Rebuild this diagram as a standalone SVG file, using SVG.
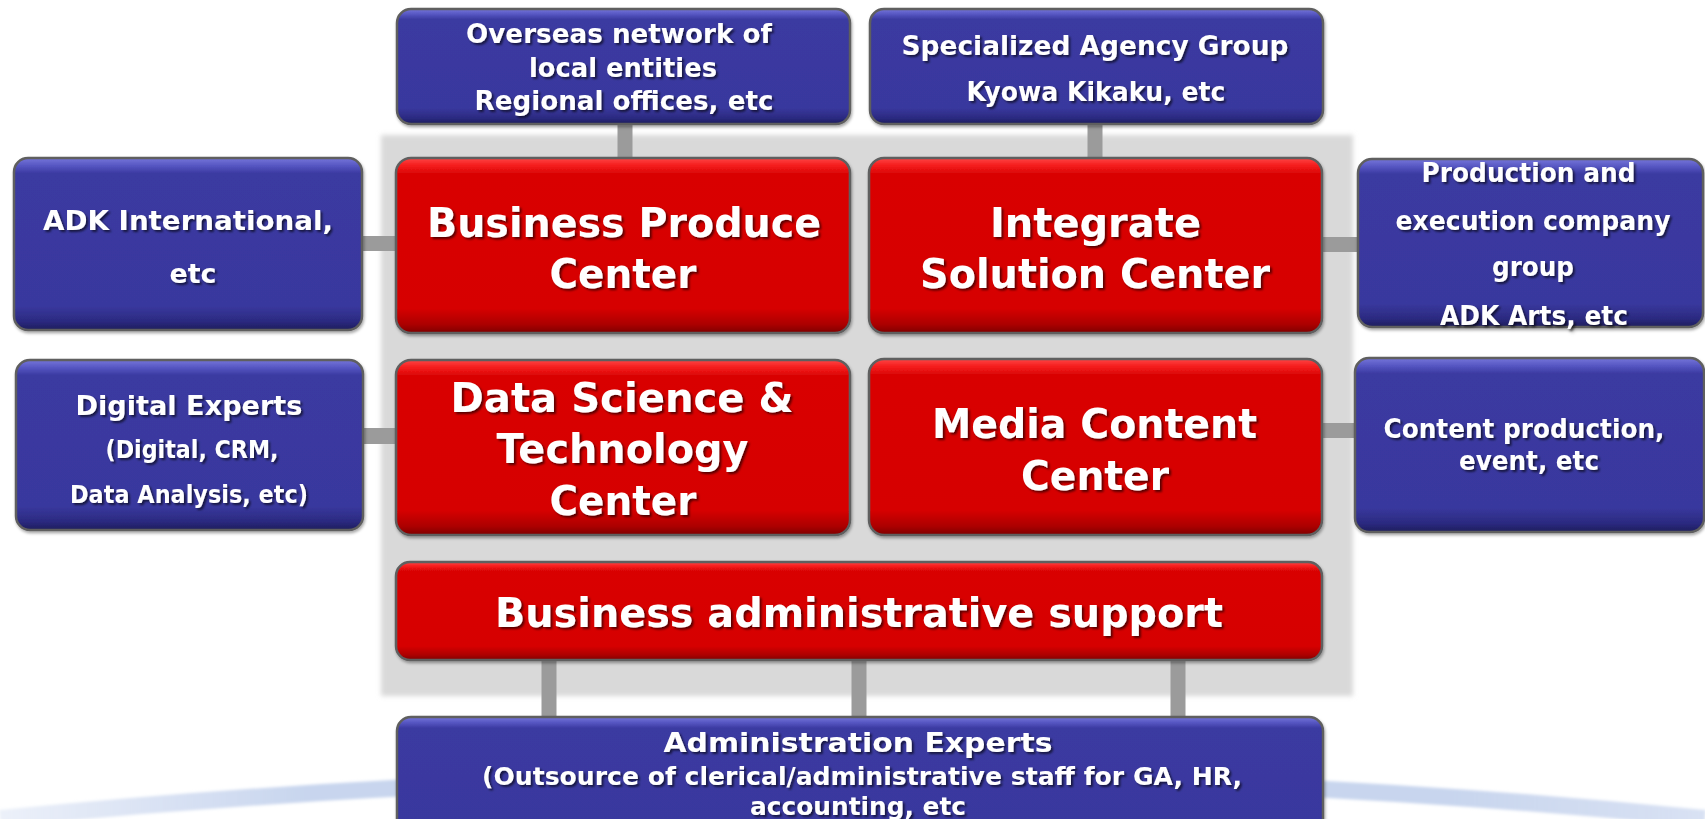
<svg xmlns="http://www.w3.org/2000/svg" width="1705" height="819" viewBox="0 0 1705 819">
  <style>
    .t { font-family: "DejaVu Sans", Verdana, sans-serif; font-weight: bold; fill: #ffffff; text-anchor: middle; }
    .big { font-size: 41px; }
    .mid { font-size: 27px; }
    .sm { font-size: 24px; }
    .red { fill: url(#redFill); stroke: #5e5e5e; stroke-width: 2.5; }
    .blue { fill: url(#blueFill); stroke: #5e5e5e; stroke-width: 2.5; }
    .link { fill: #9b9b9b; }
  </style>
  <defs>
    <linearGradient id="redFill" x1="0" y1="0" x2="0" y2="1">
      <stop offset="0" stop-color="#ff4444"/>
      <stop offset="0.045" stop-color="#f41c1c"/>
      <stop offset="0.09" stop-color="#d90505"/>
      <stop offset="0.86" stop-color="#d60404"/>
      <stop offset="0.95" stop-color="#ac0000"/>
      <stop offset="1" stop-color="#7e0000"/>
    </linearGradient>
    <linearGradient id="blueFill" x1="0" y1="0" x2="0" y2="1">
      <stop offset="0" stop-color="#7676da"/>
      <stop offset="0.045" stop-color="#5656c2"/>
      <stop offset="0.09" stop-color="#3b3aa1"/>
      <stop offset="0.86" stop-color="#39389e"/>
      <stop offset="0.95" stop-color="#2b2a80"/>
      <stop offset="1" stop-color="#1d1c5c"/>
    </linearGradient>
    <linearGradient id="swoosh" gradientUnits="userSpaceOnUse" x1="0" y1="0" x2="1705" y2="0">
      <stop offset="0" stop-color="#c8d5ee" stop-opacity="0.35"/>
      <stop offset="0.18" stop-color="#c8d5ee" stop-opacity="1"/>
      <stop offset="0.85" stop-color="#c8d5ee" stop-opacity="1"/>
      <stop offset="1" stop-color="#c8d5ee" stop-opacity="0.7"/>
    </linearGradient>
    <filter id="soft" x="-5%" y="-5%" width="110%" height="110%">
      <feGaussianBlur stdDeviation="2.5"/>
    </filter>
    <filter id="haze" x="-2%" y="-50%" width="104%" height="200%">
      <feGaussianBlur stdDeviation="1.5"/>
    </filter>
    <filter id="boxShadow" x="-5%" y="-5%" width="112%" height="115%">
      <feDropShadow dx="1" dy="2" stdDeviation="1.5" flood-color="#000000" flood-opacity="0.35"/>
    </filter>
    <filter id="textShadow" x="-5%" y="-20%" width="110%" height="150%">
      <feDropShadow dx="2" dy="2" stdDeviation="1.2" flood-color="#000000" flood-opacity="0.6"/>
    </filter>
  </defs>

  <rect width="1705" height="819" fill="#ffffff"/>

  <!-- light blue arc along the bottom -->
  <path d="M0,818.5 Q852,734 1705,818.5" fill="none" stroke="url(#swoosh)" stroke-width="17" filter="url(#haze)"/>

  <!-- grey panel behind the centres -->
  <rect x="381" y="135" width="972" height="561" fill="#d9d9d9" filter="url(#soft)"/>

  <!-- connectors -->
  <g id="connectors" class="link">
    <rect x="617.5" y="120" width="15" height="42"/>
    <rect x="1087.5" y="120" width="15" height="42"/>
    <rect x="358" y="236" width="42" height="15"/>
    <rect x="1319" y="237" width="43" height="15"/>
    <rect x="359" y="428" width="41" height="16"/>
    <rect x="1318" y="423" width="41" height="15"/>
    <rect x="541.5" y="656" width="15" height="65"/>
    <rect x="851.5" y="656" width="15" height="65"/>
    <rect x="1170.5" y="656" width="15" height="65"/>
  </g>

  <g id="overseas" filter="url(#boxShadow)">
    <rect class="blue" x="397" y="9" width="453" height="115" rx="14"/>
    <g filter="url(#textShadow)">
      <text class="t mid" x="619" y="43" textLength="306" lengthAdjust="spacingAndGlyphs">Overseas network of</text>
      <text class="t mid" x="623" y="77" textLength="188" lengthAdjust="spacingAndGlyphs">local entities</text>
      <text class="t mid" x="624" y="110" textLength="299" lengthAdjust="spacingAndGlyphs">Regional offices, etc</text>
    </g>
  </g>

  <g id="specialized" filter="url(#boxShadow)">
    <rect class="blue" x="870" y="9" width="453" height="115" rx="14"/>
    <g filter="url(#textShadow)">
      <text class="t mid" x="1095" y="55" textLength="387" lengthAdjust="spacingAndGlyphs">Specialized Agency Group</text>
      <text class="t mid" x="1096" y="101" textLength="259" lengthAdjust="spacingAndGlyphs">Kyowa Kikaku, etc</text>
    </g>
  </g>

  <g id="adk-international" filter="url(#boxShadow)">
    <rect class="blue" x="14" y="158" width="348" height="172" rx="14"/>
    <g filter="url(#textShadow)">
      <text class="t mid" x="188" y="230" textLength="290" lengthAdjust="spacingAndGlyphs">ADK International,</text>
      <text class="t mid" x="193" y="283" textLength="47" lengthAdjust="spacingAndGlyphs">etc</text>
    </g>
  </g>

  <g id="business-produce" filter="url(#boxShadow)">
    <rect class="red" x="396" y="158" width="454" height="175" rx="15"/>
    <g filter="url(#textShadow)">
      <text class="t big" x="624" y="237" textLength="394" lengthAdjust="spacingAndGlyphs">Business Produce</text>
      <text class="t big" x="623" y="288" textLength="147" lengthAdjust="spacingAndGlyphs">Center</text>
    </g>
  </g>

  <g id="integrate-solution" filter="url(#boxShadow)">
    <rect class="red" x="869" y="158" width="453" height="175" rx="15"/>
    <g filter="url(#textShadow)">
      <text class="t big" x="1095.5" y="237" textLength="211" lengthAdjust="spacingAndGlyphs">Integrate</text>
      <text class="t big" x="1095" y="288" textLength="350" lengthAdjust="spacingAndGlyphs">Solution Center</text>
    </g>
  </g>

  <g id="production-execution" filter="url(#boxShadow)">
    <rect class="blue" x="1358" y="159" width="345" height="168" rx="14"/>
    <g filter="url(#textShadow)">
      <text class="t mid" x="1528.5" y="182" textLength="214" lengthAdjust="spacingAndGlyphs">Production and</text>
      <text class="t mid" x="1533" y="230" textLength="275" lengthAdjust="spacingAndGlyphs">execution company</text>
      <text class="t mid" x="1533" y="276" textLength="82" lengthAdjust="spacingAndGlyphs">group</text>
      <text class="t mid" x="1534" y="325" textLength="188" lengthAdjust="spacingAndGlyphs">ADK Arts, etc</text>
    </g>
  </g>

  <g id="digital-experts" filter="url(#boxShadow)">
    <rect class="blue" x="16" y="360" width="347" height="170" rx="14"/>
    <g filter="url(#textShadow)">
      <text class="t mid" x="189" y="415" textLength="227" lengthAdjust="spacingAndGlyphs">Digital Experts</text>
      <text class="t sm" x="192" y="458" textLength="173" lengthAdjust="spacingAndGlyphs">(Digital, CRM,</text>
      <text class="t sm" x="189" y="503" textLength="238" lengthAdjust="spacingAndGlyphs">Data Analysis, etc)</text>
    </g>
  </g>

  <g id="data-science" filter="url(#boxShadow)">
    <rect class="red" x="396" y="360" width="454" height="175" rx="15"/>
    <g filter="url(#textShadow)">
      <text class="t big" x="622" y="412" textLength="343" lengthAdjust="spacingAndGlyphs">Data Science &amp;</text>
      <text class="t big" x="622.5" y="463" textLength="252" lengthAdjust="spacingAndGlyphs">Technology</text>
      <text class="t big" x="623" y="515" textLength="147" lengthAdjust="spacingAndGlyphs">Center</text>
    </g>
  </g>

  <g id="media-content" filter="url(#boxShadow)">
    <rect class="red" x="869" y="359" width="453" height="176" rx="15"/>
    <g filter="url(#textShadow)">
      <text class="t big" x="1094.5" y="438" textLength="325" lengthAdjust="spacingAndGlyphs">Media Content</text>
      <text class="t big" x="1095" y="490" textLength="148" lengthAdjust="spacingAndGlyphs">Center</text>
    </g>
  </g>

  <g id="content-production" filter="url(#boxShadow)">
    <rect class="blue" x="1355" y="358" width="349" height="174" rx="14"/>
    <g filter="url(#textShadow)">
      <text class="t mid" x="1524" y="438" textLength="281" lengthAdjust="spacingAndGlyphs">Content production,</text>
      <text class="t mid" x="1529" y="470" textLength="140" lengthAdjust="spacingAndGlyphs">event, etc</text>
    </g>
  </g>

  <g id="business-admin-support" filter="url(#boxShadow)">
    <rect class="red" x="396" y="562" width="926" height="98" rx="14"/>
    <g filter="url(#textShadow)">
      <text class="t big" x="859" y="627" textLength="728" lengthAdjust="spacingAndGlyphs">Business administrative support</text>
    </g>
  </g>

  <g id="administration-experts" filter="url(#boxShadow)">
    <rect class="blue" x="397" y="717" width="926" height="125" rx="14"/>
    <g filter="url(#textShadow)">
      <text class="t mid" x="858" y="752" textLength="389" lengthAdjust="spacingAndGlyphs">Administration Experts</text>
      <text class="t sm" x="862" y="785" textLength="760" lengthAdjust="spacingAndGlyphs">(Outsource of clerical/administrative staff for GA, HR,</text>
      <text class="t sm" x="858" y="815" textLength="216" lengthAdjust="spacingAndGlyphs">accounting, etc</text>
    </g>
  </g>
</svg>
